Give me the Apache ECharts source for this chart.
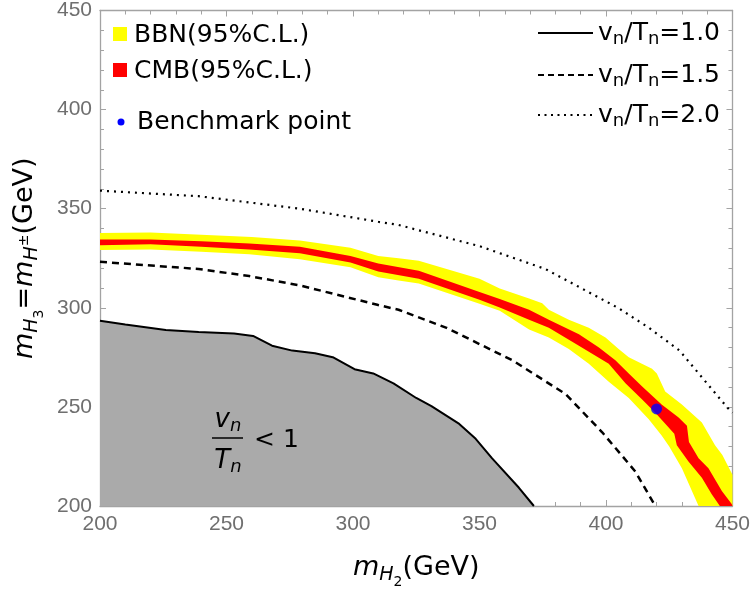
<!DOCTYPE html>
<html>
<head>
<meta charset="utf-8">
<script src="https://cdn.jsdelivr.net/npm/echarts@6/dist/echarts.min.js"></script>
<style>
html, body { margin: 0; padding: 0; background: #fff; }
#chart { width: 753px; height: 594px; }
</style>
</head>
<body>
<div id="chart"></div>
<script>
// axis range / ticks
const xRange = [200, 450];
const yRange = [200, 450];
const tickStep = 50;

// vn/Tn = 1.0 contour (edge of the grey region)
const ratio10 = [[200, 293.5], [210, 291.6], [226, 288.8], [239, 287.8], [253, 287], [260.5, 285.8],
  [268, 280.9], [276, 278.4], [285, 277.1], [292, 275.1], [300.6, 269], [308, 266.9], [316, 261.9],
  [325, 254.5], [331, 250.4], [342, 241.4], [348.5, 233.9], [355, 224], [365.6, 209.2], [371.5, 200]];
// vn/Tn = 1.5 contour
const ratio15 = [[200, 323.2], [239, 319.6], [259, 316], [279, 311.3], [310, 301.4], [318, 299],
  [337, 289.9], [363, 273.5], [384, 256.5], [398.5, 237.2], [411.6, 217.4], [419.5, 200]];
// vn/Tn = 2.0 contour
const ratio20 = [[200, 359.1], [239, 356.3], [279, 350], [310, 343.4], [318, 341.8], [350, 331.1],
  [376, 319.6], [405, 299.8], [417, 289.9], [429, 278.5], [448, 249.6], [450, 247]];

// BBN (95% C.L.) band edges
const bbnUpper = [[200, 337.7], [220, 338], [240, 336.9], [260, 335.7], [279, 333.9], [299, 330.3],
  [310, 326.1], [318, 325], [326, 323.7], [350, 314.6], [358, 309.7], [369.6, 304.7], [374.8, 302.3],
  [377.4, 299], [385.3, 294], [393.2, 289.9], [399.8, 285], [405, 279.2], [409, 275.1], [418.2, 269.3],
  [420.1, 266.8], [423.4, 257.8], [430, 251.2], [437.9, 242.1], [443.1, 230.6], [446, 225.7],
  [450, 215.8], [450, 200]];
const bbnLower = [[200, 329.1], [220, 329.4], [240, 328.3], [259, 327], [279, 324.5], [299, 320.4],
  [310, 315.4], [318, 313.8], [326, 312.2], [350, 302], [358, 298.5], [369.6, 289.1], [377.4, 285],
  [385.3, 279.2], [393.2, 271.8], [401.1, 262.7], [409, 254.5], [416.9, 243.8], [422, 235.6],
  [425, 230], [430, 219.1], [436.6, 200]];

// CMB (95% C.L.) band edges
const cmbUpper = [[200, 334.4], [220, 334.4], [240, 333.6], [259, 332.4], [279, 330.8], [299, 326.1],
  [310, 322.4], [326, 318.7], [350, 308], [358, 304.5], [369.6, 299], [377.4, 294], [389.3, 286.6],
  [397.2, 280], [403.7, 273.5], [409, 266.8], [414.3, 260.3], [422, 251.2], [428.7, 244.6],
  [432, 240.5], [432.8, 232.3], [436.6, 224.1], [440.5, 219.1], [445.8, 207.6], [449.7, 201], [450, 200]];
const cmbLower = [[200, 331.6], [220, 332.1], [240, 330.8], [259, 329.4], [279, 327.5], [299, 322.9],
  [310, 318.3], [326, 314.6], [350, 304], [358, 300.1], [369.6, 294], [377.4, 289.9], [389.3, 280.9],
  [401.1, 271.8], [407.7, 261.9], [414.3, 253.7], [419.5, 247.1], [427, 236.5], [428, 230.6],
  [432.6, 222.4], [437.9, 214.2], [441.8, 205.9], [445, 200]];

const benchmark = [[420, 249]];

const chart = echarts.init(document.getElementById('chart'));

const axisGray = '#a3a3a3';
const labelGray = '#6f6f6f';
const sans = '"DejaVu Sans", sans-serif';

function band(upper, lower, color) {
  return function (params, api) {
    const pts = upper.concat(lower.slice().reverse()).map(p => api.coord(p));
    return { type: 'polygon', shape: { points: pts }, style: { fill: color } };
  };
}

function frameAxis(pos, showLabel, extra) {
  return Object.assign({
    type: 'value',
    position: pos,
    min: pos === 'bottom' || pos === 'top' ? xRange[0] : yRange[0],
    max: pos === 'bottom' || pos === 'top' ? xRange[1] : yRange[1],
    interval: tickStep,
    axisLine: { show: true, onZero: false, lineStyle: { color: axisGray, width: 1.3 } },
    axisTick: { show: true, inside: true, length: 6, lineStyle: { color: axisGray, width: 1 } },
    minorTick: { show: true, splitNumber: 5, length: 4, lineStyle: { color: axisGray, width: 1 } },
    splitLine: { show: false },
    axisLabel: { show: showLabel, color: labelGray, fontSize: 21, fontFamily: '"Liberation Sans", Arial', margin: 8 }
  }, extra || {});
}

const nameRich = {
  m: { fontFamily: sans, fontStyle: 'italic', fontSize: 27, color: '#000' },
  h: { fontFamily: sans, fontStyle: 'italic', fontSize: 19, color: '#000', padding: [14, 0, 0, 0] },
  d: { fontFamily: sans, fontSize: 14, color: '#000', padding: [28, 0, 0, 0] },
  pm: { fontFamily: sans, fontSize: 14, color: '#000', padding: [0, 0, 2, 0] },
  g: { fontFamily: sans, fontSize: 27, color: '#000' }
};

const legRich = {
  a: { fontFamily: sans, fontSize: 25, fill: '#000' },
  s: { fontFamily: sans, fontSize: 18, fill: '#000', padding: [12, 0, 0, 0] }
};

const fracRich = {
  f: { fontFamily: sans, fontStyle: 'italic', fontSize: 26, fill: '#000' },
  s: { fontFamily: sans, fontStyle: 'italic', fontSize: 18, fill: '#000', padding: [12, 0, 0, 0] }
};

function ratioLabel(v) {
  return '{a|v}{s|n}{a|/T}{s|n}{a|=' + v + '}';
}

chart.setOption({
  animation: false,
  backgroundColor: '#fff',
  grid: { left: 100, right: 19, top: 6, bottom: 82 },
  xAxis: [
    frameAxis('bottom', true, {
      name: '{m|m}{h|H}{d|2}{g|(GeV)}',
      nameLocation: 'middle',
      nameGap: 41,
      nameTextStyle: { rich: nameRich }
    }),
    frameAxis('top', false)
  ],
  yAxis: [
    frameAxis('left', true, {
      name: '{m|m}{h|H}{d|3}{g|=}{m|m}{h|H}{pm|±}{g|(GeV)}',
      nameLocation: 'middle',
      nameGap: 48,
      nameTextStyle: { rich: nameRich }
    }),
    frameAxis('right', false)
  ],
  series: [
    {
      type: 'line', data: ratio10, symbol: 'none', z: 2,
      lineStyle: { color: '#000', width: 2 },
      areaStyle: { color: '#aaaaaa', opacity: 1, origin: 'start' }
    },
    {
      type: 'line', data: ratio15, symbol: 'none', z: 3,
      lineStyle: { color: '#000', width: 2.5, type: [7, 5] }
    },
    {
      type: 'line', data: ratio20, symbol: 'none', z: 3,
      lineStyle: { color: '#000', width: 2.2, type: [2, 5] }
    },
    {
      type: 'custom', z: 4, data: [bbnUpper[0]], encode: { x: 0, y: 1 },
      renderItem: band(bbnUpper, bbnLower, '#ffff00')
    },
    {
      type: 'custom', z: 5, data: [cmbUpper[0]], encode: { x: 0, y: 1 },
      renderItem: band(cmbUpper, cmbLower, '#ff0000')
    },
    {
      type: 'scatter', data: benchmark, z: 6, symbolSize: 11,
      itemStyle: { color: '#0000ff' }
    }
  ],
  graphic: [
    { type: 'rect', z: 100, shape: { x: 113, y: 27, width: 14, height: 14 }, style: { fill: '#ffff00' } },
    { type: 'text', z: 100, x: 134, y: 35, style: { text: 'BBN(95%C.L.)', fontFamily: sans, fontSize: 25, fill: '#000', verticalAlign: 'middle' } },
    { type: 'rect', z: 100, shape: { x: 113, y: 63, width: 14, height: 14 }, style: { fill: '#ff0000' } },
    { type: 'text', z: 100, x: 134, y: 71, style: { text: 'CMB(95%C.L.)', fontFamily: sans, fontSize: 25, fill: '#000', verticalAlign: 'middle' } },
    { type: 'circle', z: 100, shape: { cx: 121, cy: 122, r: 3.5 }, style: { fill: '#0000ff' } },
    { type: 'text', z: 100, x: 137, y: 122, style: { text: 'Benchmark point', fontFamily: sans, fontSize: 25, fill: '#000', verticalAlign: 'middle' } },

    { type: 'line', z: 100, shape: { x1: 538, y1: 33, x2: 593, y2: 33 }, style: { stroke: '#000', lineWidth: 2 } },
    { type: 'text', z: 100, x: 598, y: 33, style: { text: ratioLabel('1.0'), rich: legRich, verticalAlign: 'middle' } },
    { type: 'line', z: 100, shape: { x1: 538, y1: 75, x2: 593, y2: 75 }, style: { stroke: '#000', lineWidth: 2, lineDash: [6, 4] } },
    { type: 'text', z: 100, x: 598, y: 75, style: { text: ratioLabel('1.5'), rich: legRich, verticalAlign: 'middle' } },
    { type: 'line', z: 100, shape: { x1: 538, y1: 115, x2: 593, y2: 115 }, style: { stroke: '#000', lineWidth: 2, lineDash: [2, 4.5] } },
    { type: 'text', z: 100, x: 598, y: 115, style: { text: ratioLabel('2.0'), rich: legRich, verticalAlign: 'middle' } },

    // region label vn/Tn < 1
    { type: 'text', z: 100, x: 228, y: 420, style: { text: '{f|v}{s|n}', rich: fracRich, align: 'center', verticalAlign: 'middle' } },
    { type: 'line', z: 100, shape: { x1: 212, y1: 438, x2: 243, y2: 438 }, style: { stroke: '#000', lineWidth: 1.5 } },
    { type: 'text', z: 100, x: 228, y: 461, style: { text: '{f|T}{s|n}', rich: fracRich, align: 'center', verticalAlign: 'middle' } },
    { type: 'text', z: 100, x: 254, y: 440, style: { text: '< 1', fontFamily: sans, fontSize: 25, fill: '#000', verticalAlign: 'middle' } }
  ]
});
</script>
</body>
</html>
